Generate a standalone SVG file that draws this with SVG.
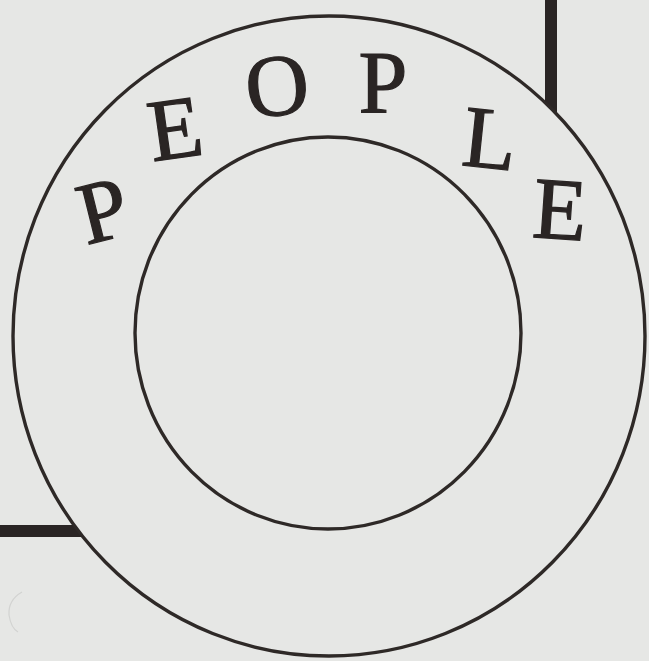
<svg xmlns="http://www.w3.org/2000/svg" width="649" height="661" viewBox="0 0 649 661">
  <style>
    .bg { fill: #e6e7e5; }
    .frame { stroke: #2a2524; stroke-width: 12; fill: none; stroke-linecap: butt; }
    .ring { stroke: #2e2927; stroke-width: 3.4; fill: #e6e7e5; }
    .letter { font-family: "Liberation Serif", "DejaVu Serif", serif; font-size: 88px; fill: #2a2524; stroke: #2a2524; stroke-width: 1.2; text-anchor: middle; }
  </style>
  <rect class="bg" x="0" y="0" width="649" height="661"/>
  <g id="connectors">
    <line class="frame" x1="551" y1="0" x2="551" y2="140"/>
    <line class="frame" x1="0" y1="531" x2="120" y2="531"/>
  </g>
  <path d="M 22 592 Q 8 600 9 615 Q 11 628 18 632" fill="none" stroke="#d2d3d1" stroke-width="1.2"/>
  <g id="outer-circle">
    <ellipse class="ring" cx="329" cy="336" rx="316" ry="320"/>
  </g>
  <g id="inner-circle">
    <ellipse class="ring" cx="328" cy="333" rx="193" ry="196"/>
  </g>
  <g id="label-people">
    <text class="letter" x="103" y="240" transform="rotate(-14 103 211)">P</text>
    <text class="letter" x="175" y="158" transform="rotate(-8 175 129)">E</text>
    <text class="letter" x="277" y="115" transform="rotate(-6 277 86)">O</text>
    <text class="letter" x="383" y="112" transform="rotate(0 383 83)">P</text>
    <text class="letter" x="490" y="168" transform="rotate(6 490 139)">L</text>
    <text class="letter" x="560" y="239" transform="rotate(4 560 210)">E</text>
  </g>
</svg>
